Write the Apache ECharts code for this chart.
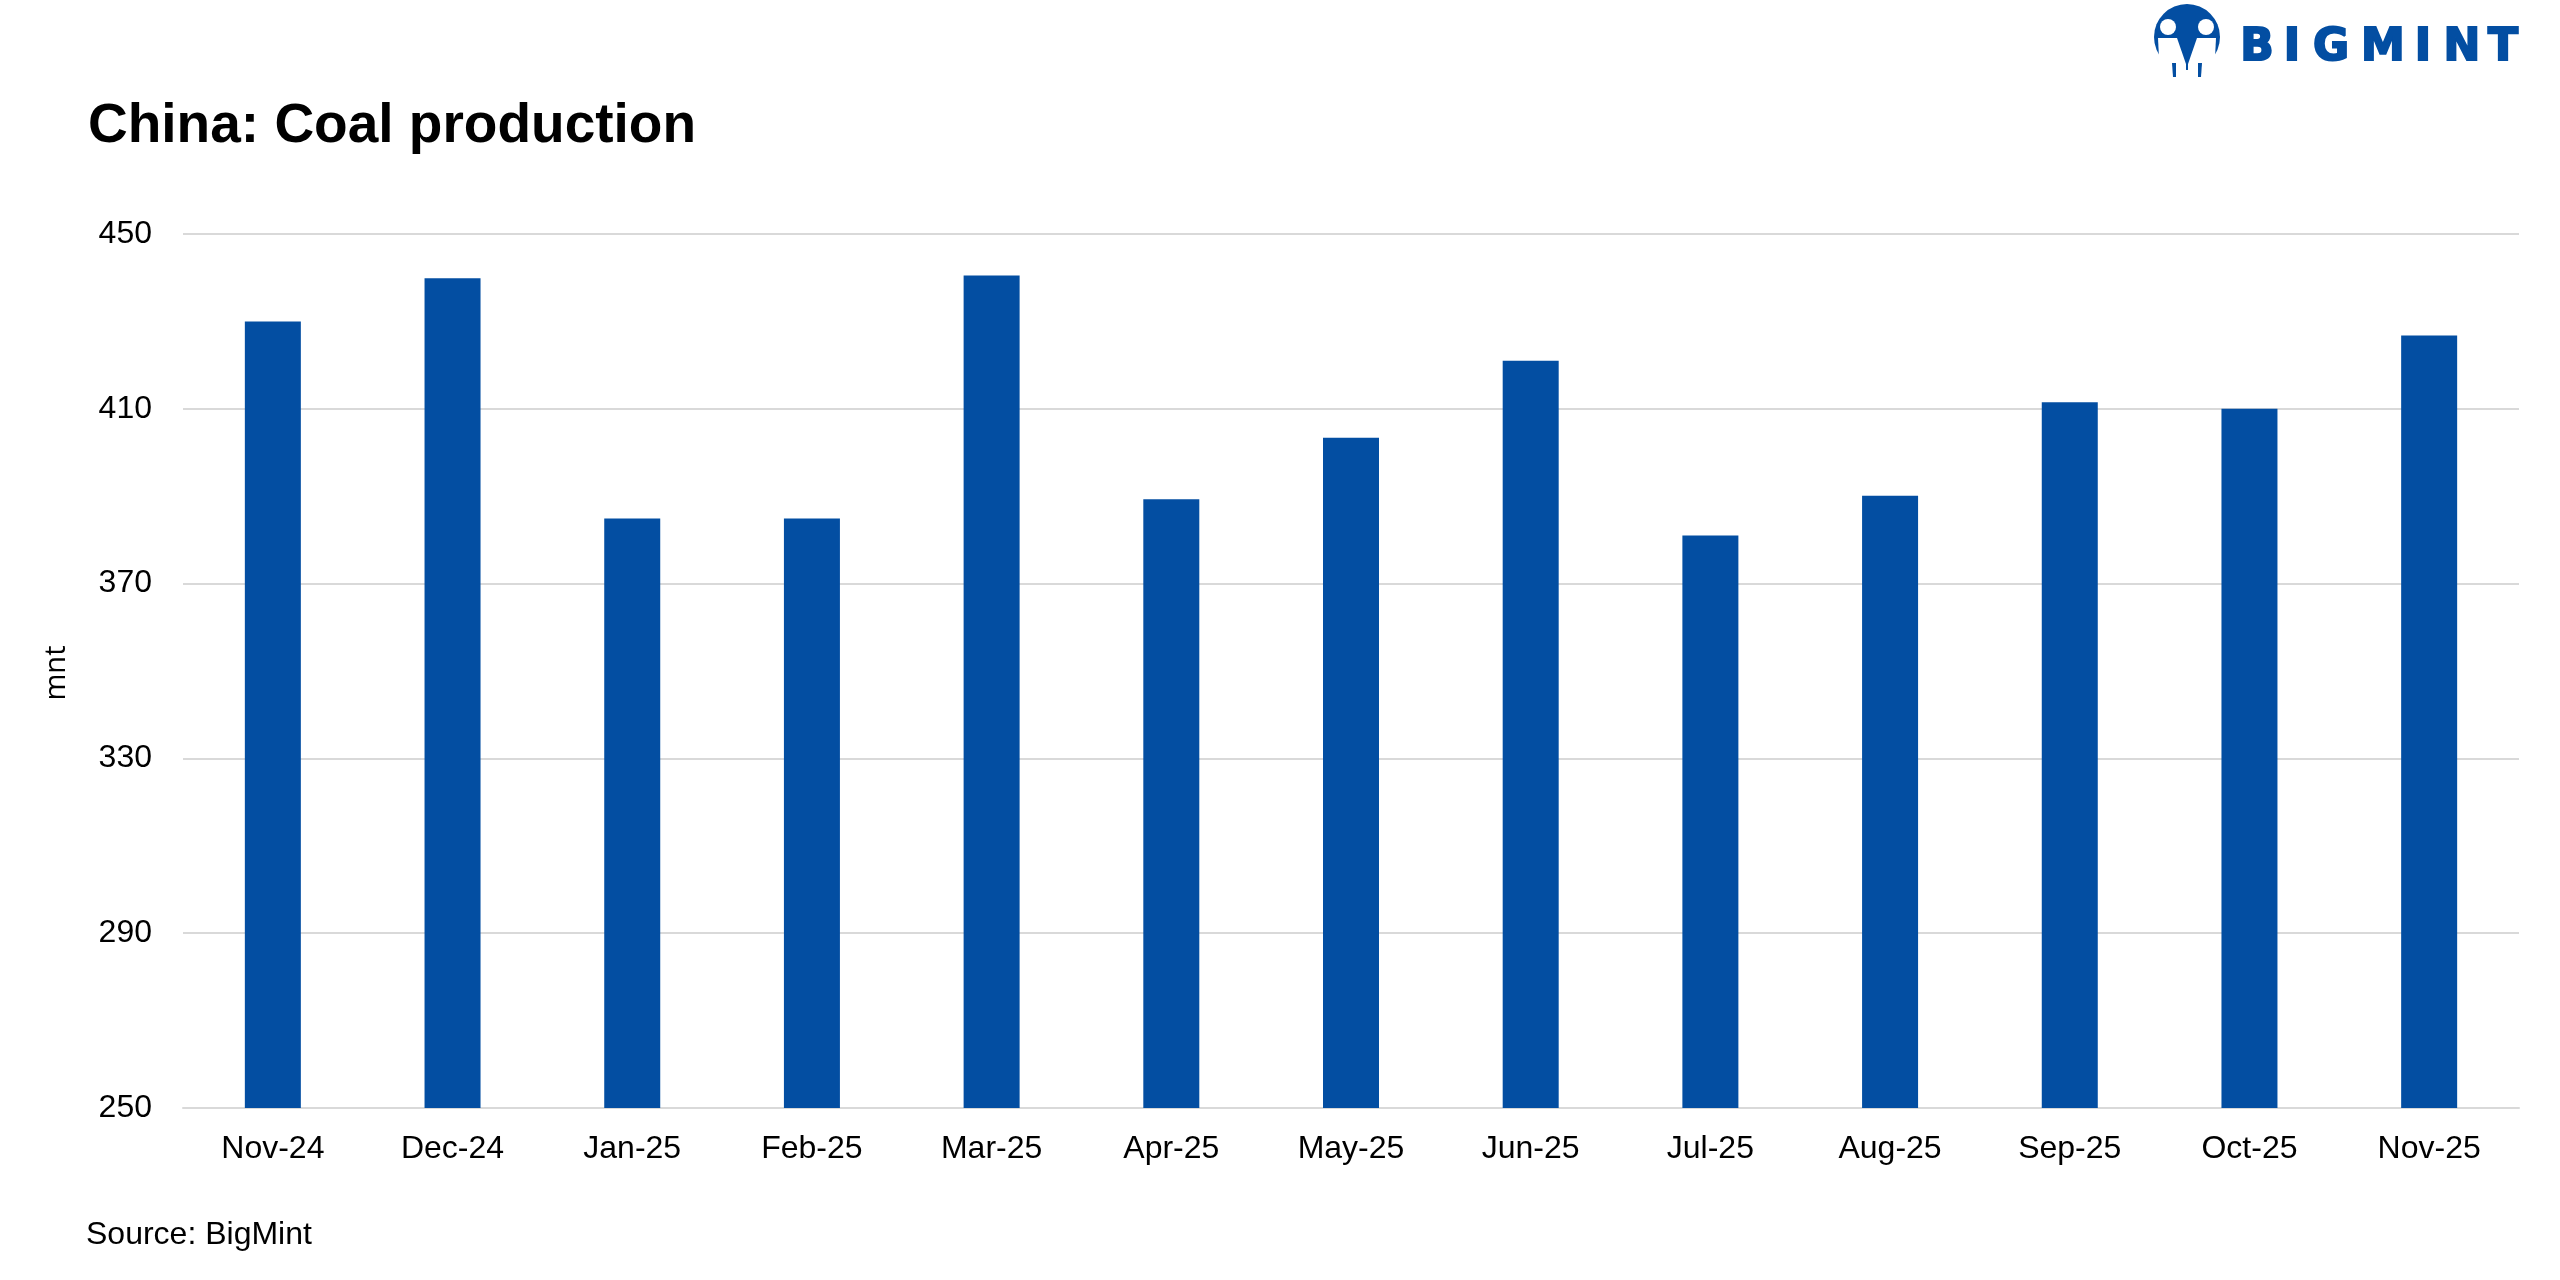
<!DOCTYPE html>
<html>
<head>
<meta charset="utf-8">
<script src="https://cdn.jsdelivr.net/npm/echarts@6/dist/echarts.min.js"></script>
<style>
html,body{margin:0;padding:0;background:#fff;}
#chart{width:2560px;height:1280px;}
</style>
</head>
<body>
<div id="chart"></div>
<script>
// ---- data ----
var categories = ['Nov-24','Dec-24','Jan-25','Feb-25','Mar-25','Apr-25','May-25','Jun-25','Jul-25','Aug-25','Sep-25','Oct-25','Nov-25'];
var production = [430.0, 439.9, 384.9, 384.9, 440.5, 389.3, 403.4, 421.0, 381.0, 390.1, 411.5, 410.0, 426.8];
var yMin = 250, yMax = 450, yInterval = 40;
var titleText = 'China: Coal production';
var unitText = 'mnt';
var sourceText = 'Source: BigMint';
var logoLetters = ['B','I','G','M','I','N','T'];
var logoLetterX = [2257, 2292, 2331, 2383, 2423, 2462, 2503];

var BLUE = '#034EA2';
var GRID = '#d9d9d9';
var FONT = 'Liberation Sans, Arial, sans-serif';

var chart = echarts.init(document.getElementById('chart'), null, {renderer:'canvas'});

var logoEls = [
  {type:'circle', shape:{cx:2187, cy:37, r:33}, style:{fill:BLUE}},
  {type:'polygon', shape:{points:[[2158,38],[2177,38],[2186,64],[2186,74],[2167,74],[2159,58]]}, style:{fill:'#fff'}},
  {type:'polygon', shape:{points:[[2216,38],[2197,38],[2188,64],[2188,74],[2207,74],[2215,58]]}, style:{fill:'#fff'}},
  {type:'polygon', shape:{points:[[2179,40],[2195,40],[2187,60]]}, style:{fill:BLUE}},
  {type:'circle', shape:{cx:2168, cy:27, r:8}, style:{fill:'#fff'}},
  {type:'circle', shape:{cx:2206, cy:27, r:8}, style:{fill:'#fff'}},
  {type:'polygon', shape:{points:[[2172,63],[2176,63],[2176,77],[2173,77]]}, style:{fill:BLUE}},
  {type:'polygon', shape:{points:[[2198,63],[2202,63],[2201,77],[2198,77]]}, style:{fill:BLUE}}
];
logoLetters.forEach(function(ch, i){
  logoEls.push({type:'text', style:{text:ch, x:logoLetterX[i], y:49, align:'center', verticalAlign:'middle',
    font:'bold 44px "DejaVu Sans", sans-serif', fill:BLUE, stroke:BLUE, lineWidth:2}});
});

var option = {
  backgroundColor:'#fff',
  animation:false,
  grid:{left:183, right:41, top:234, bottom:172, containLabel:false},
  xAxis:{
    type:'category',
    data:categories,
    axisLine:{show:true, lineStyle:{color:GRID, width:2}},
    axisTick:{show:false},
    axisLabel:{color:'#000', fontSize:32, fontFamily:FONT, margin:25}
  },
  yAxis:{
    type:'value',
    min:yMin, max:yMax, interval:yInterval,
    axisLine:{show:false},
    axisTick:{show:false},
    splitLine:{show:true, lineStyle:{color:GRID, width:2}},
    axisLabel:{color:'#000', fontSize:32, fontFamily:FONT, margin:31}
  },
  series:[{
    type:'bar',
    data:production,
    barWidth:56,
    itemStyle:{color:BLUE}
  }],
  graphic:[
    {type:'text', style:{text:titleText, x:88, y:127, verticalAlign:'middle', font:'bold 55px ' + FONT, fill:'#000'}},
    {type:'text', x:57, y:673, rotation:Math.PI/2, style:{text:unitText, x:0, y:0, align:'center', verticalAlign:'middle', font:'29px "Open Sans", sans-serif', fill:'#000'}},
    {type:'text', style:{text:sourceText, x:86, y:1235, verticalAlign:'middle', font:'32px ' + FONT, fill:'#000'}},
    {type:'group', children:logoEls}
  ]
};
chart.setOption(option);
</script>
</body>
</html>
